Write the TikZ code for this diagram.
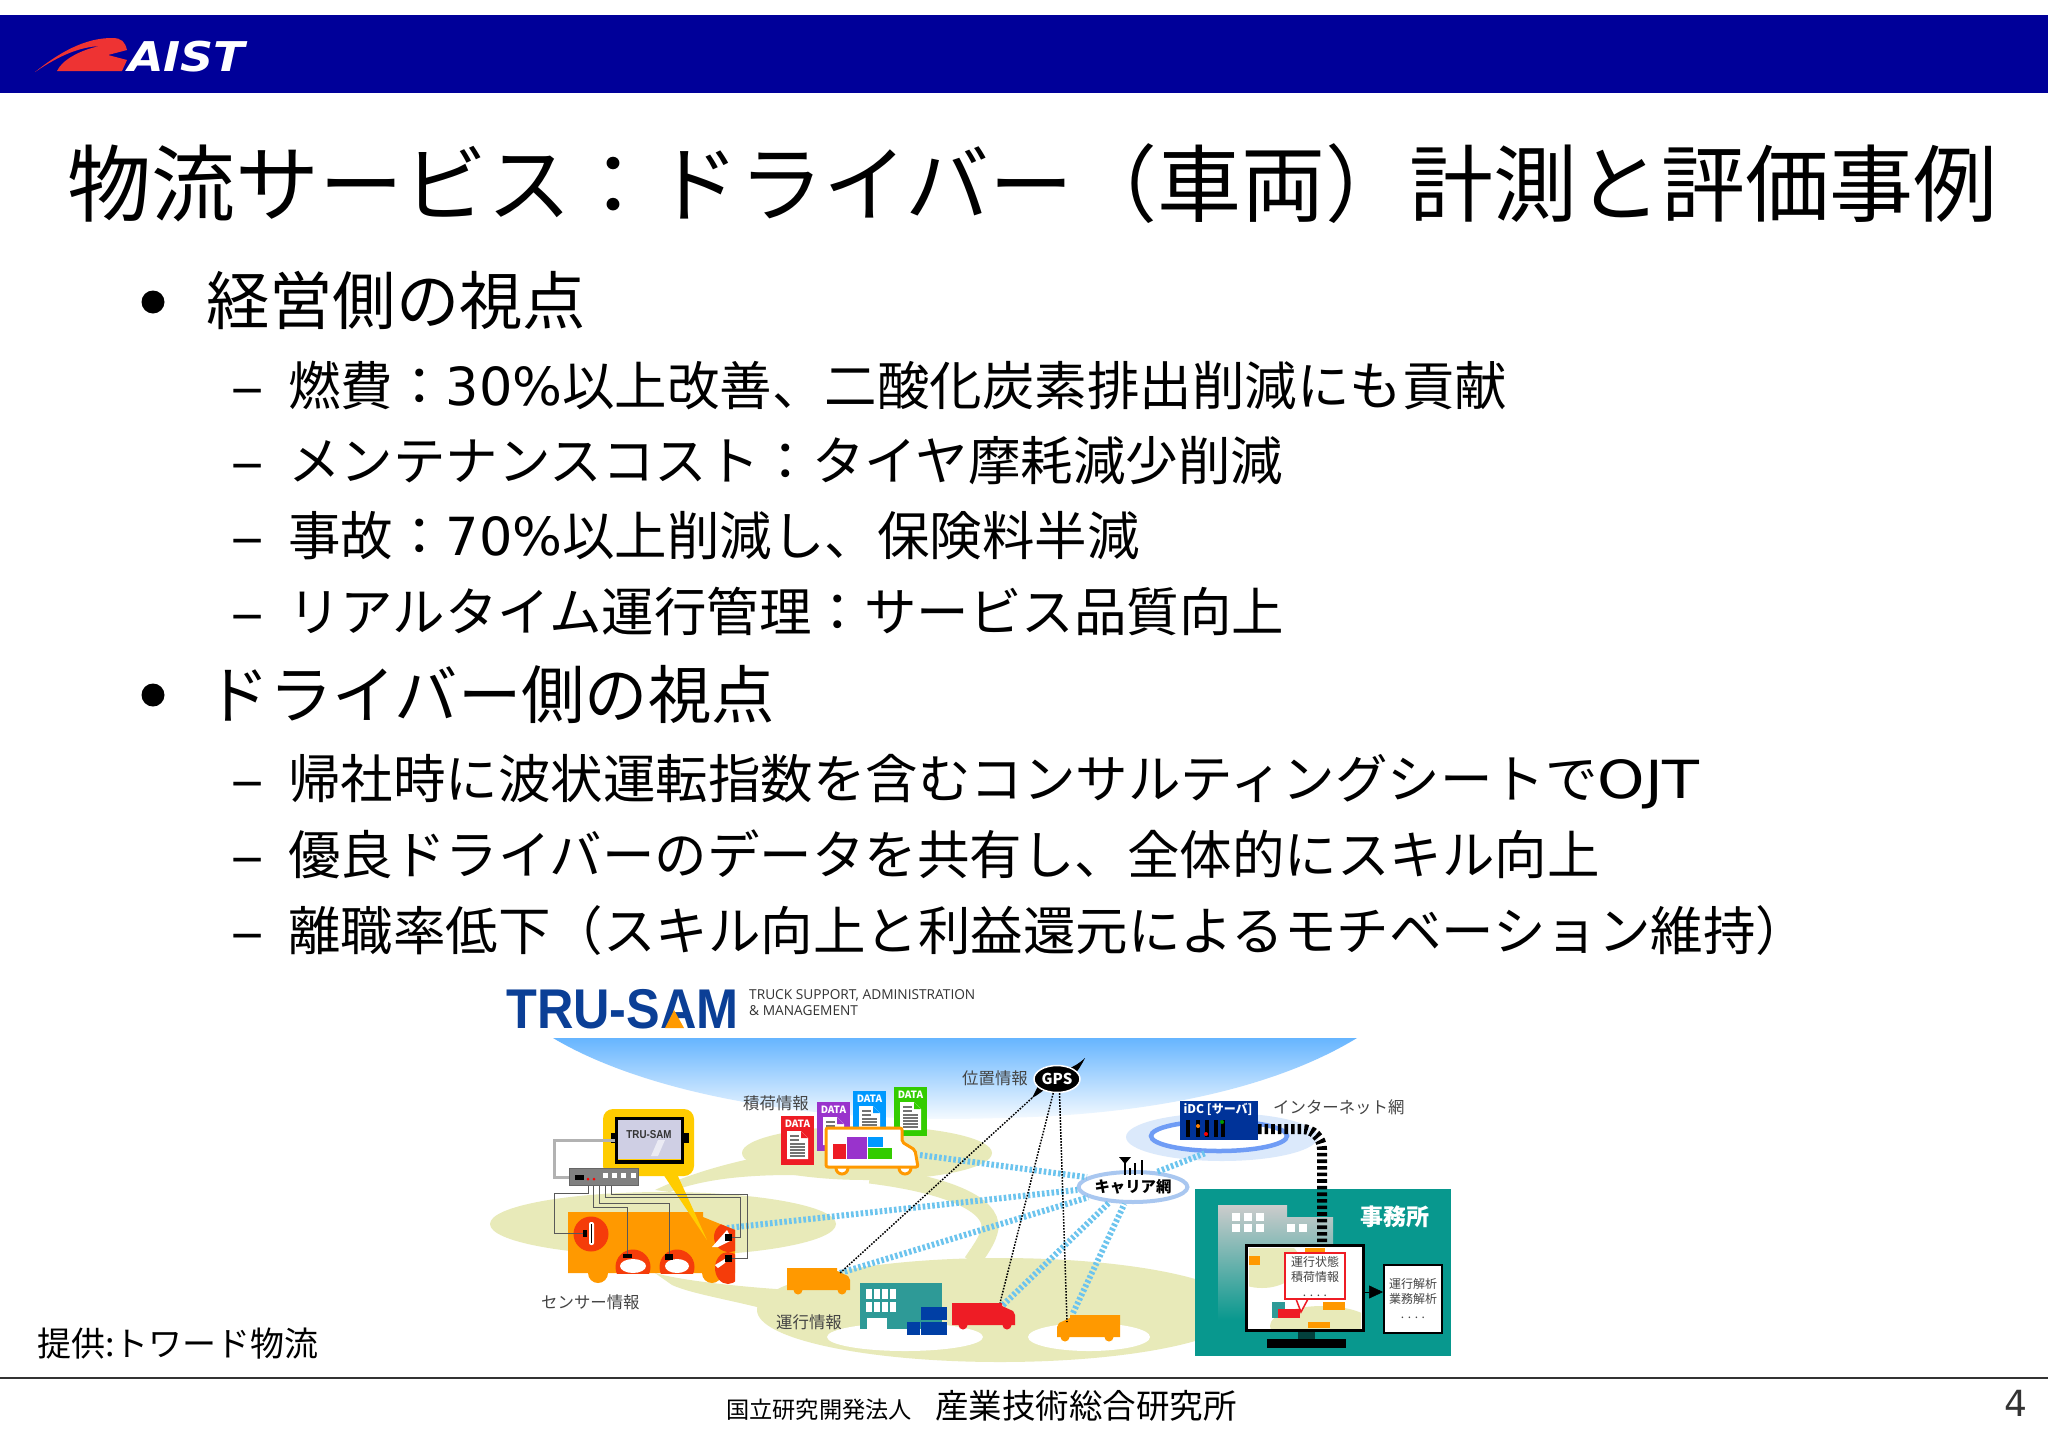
\documentclass[tikz,border=0pt]{standalone}
\usepackage{fontspec}
\usepackage{xcolor}
\usetikzlibrary{shapes.geometric,arrows.meta}
\setmainfont{Noto Sans CJK JP}
\newfontfamily\verafont{DejaVu Sans}
\newfontfamily\logofont{Liberation Sans}
\newfontfamily\capfont{Open Sans}
\definecolor{bandblue}{HTML}{000099}
\definecolor{swooshred}{HTML}{EE3333}
\definecolor{skyblue}{HTML}{66B5FF}
\definecolor{groundpale}{HTML}{E8EAB9}
\definecolor{linkblue}{HTML}{6CC4EE}
\definecolor{vanorange}{HTML}{FF9900}
\definecolor{sensorred}{HTML}{F53C0A}
\definecolor{calloutgold}{HTML}{FFCC00}
\definecolor{sheetred}{HTML}{EE1C25}
\definecolor{sheetpurple}{HTML}{9933CC}
\definecolor{sheetblue}{HTML}{0099FF}
\definecolor{sheetgreen}{HTML}{33CC00}
\definecolor{depotteal}{HTML}{2E9A97}
\definecolor{officeteal}{HTML}{08988E}
\definecolor{crateblue}{HTML}{003FA5}
\definecolor{logoblue}{HTML}{0B3F96}
\definecolor{idcblue}{HTML}{003399}
\definecolor{labelgray}{HTML}{444444}
\definecolor{cloudpale}{HTML}{DBE9FB}
\definecolor{carrierring}{HTML}{A9C7F0}
\definecolor{idcringblue}{HTML}{6F9CF5}

\begin{document}
\begin{tikzpicture}[
    x=1pt, y=-1pt,
    title/.style={anchor=base west, inner sep=0pt, font=\fontsize{84}{90}\selectfont},
    head/.style={anchor=base west, inner sep=0pt, font=\fontsize{63.3}{70}\selectfont},
    point/.style={anchor=base west, inner sep=0pt, font=\fontsize{52.5}{60}\selectfont},
    dashmark/.style={anchor=base west, inner sep=0pt, font=\verafont\fontsize{52.5}{60}\selectfont},
    dot/.style={circle, fill=black, inner sep=0pt, minimum size=23},
    tag/.style={inner sep=0pt, text=labelgray, font=\fontsize{16.4}{18}\selectfont},
    sheettitle/.style={inner sep=0pt, text=white, font=\fontsize{10}{11}\selectfont\bfseries},
    plug/.style={rectangle, fill=black, inner sep=0pt},
    wire/.style={draw=black!65, line width=1pt},
    link/.style={draw=linkblue, line width=6pt, dash pattern=on 2.6pt off 2.2pt},
    gpsline/.style={draw=black, line width=1.5pt, dash pattern=on 1.6pt off 1.4pt},
    memo/.style={rectangle, fill=white, inner sep=0pt, align=center, text=labelgray, font=\fontsize{12}{15}\selectfont},
    pics/datasheet/.style={code={
        \fill[#1] (0,0) rectangle (33,49);
        \node[sheettitle] (-title) at (16.5,8) {DATA};
        \fill[white] (6,15) -- (20,15) -- (27,22) -- (27,43) -- (6,43) -- cycle;
        \fill[#1] (20,15) -- (27,22) -- (20,22) -- cycle;
        \foreach \yy in {20,24} \draw[black!55, line width=1.2pt] (9,\yy) -- (18,\yy);
        \foreach \yy in {28,31,34,37,40} \draw[black!55, line width=1.2pt] (9,\yy) -- (24,\yy);
    }},
    pics/lorry/.style={code={
        \fill[#1] (0,0) -- (50,0) -- (50,3) -- (61,8) -- (63,12) -- (63,22) -- (0,22) -- cycle;
        \fill[#1] (11,22) circle (4.5);
        \fill[#1] (55,22) circle (4.5);
    }}
]
    \useasboundingbox (0,0) rectangle (2048,1448);
    \fill[white] (0,0) rectangle (2048,1448);

    % header band
    \fill[bandblue] (0,15) rectangle (2048,93);
    \fill[swooshred] (35,72) .. controls (60,52) and (85,38) .. (112,38) .. controls (122,38) and (125,42) .. (127,50)
        -- (108,55) -- (127,60) -- (122,71) -- (57,71) .. controls (62,60) and (80,50) .. (100,46)
        .. controls (80,47) and (60,55) .. (35,72) -- cycle;
    \node[anchor=base west, inner sep=0pt, text=white, font=\verafont\fontsize{41}{44}\selectfont\bfseries\itshape] (aist) at (128,71) {\scalebox{1.12}[1]{AIST}};

    % text of the slide
    \node[title] (slidetitle) at (67,215) {物流サービス：ドライバー（車両）計測と評価事例};
    \node[dot] (dotone) at (153,302) {};
    \node[head] (headone) at (206,324) {経営側の視点};
    \node[dashmark] (dashone) at (230,405) {\scalebox{1.3}[1]{–}};
    \node[point] (fuel) at (288,405) {燃費：{\verafont 30\%}以上改善、二酸化炭素排出削減にも貢献};
    \node[dashmark] (dashtwo) at (230,480) {\scalebox{1.3}[1]{–}};
    \node[point] (upkeep) at (288,480) {メンテナンスコスト：タイヤ摩耗減少削減};
    \node[dashmark] (dashthree) at (230,555) {\scalebox{1.3}[1]{–}};
    \node[point] (accident) at (288,555) {事故：{\verafont 70\%}以上削減し、保険料半減};
    \node[dashmark] (dashfour) at (230,631) {\scalebox{1.3}[1]{–}};
    \node[point] (realtime) at (288,631) {リアルタイム運行管理：サービス品質向上};
    \node[dot] (dottwo) at (153,695) {};
    \node[head] (headtwo) at (206,718) {ドライバー側の視点};
    \node[dashmark] (dashfive) at (230,798) {\scalebox{1.3}[1]{–}};
    \node[point] (sheet) at (288,798) {帰社時に波状運転指数を含むコンサルティングシートで{\verafont\scalebox{1.15}[1]{OJT}}};
    \node[dashmark] (dashsix) at (230,874) {\scalebox{1.3}[1]{–}};
    \node[point] (share) at (288,874) {優良ドライバーのデータを共有し、全体的にスキル向上};
    \node[dashmark] (dashseven) at (230,950) {\scalebox{1.3}[1]{–}};
    \node[point] (leave) at (288,950) {離職率低下（スキル向上と利益還元によるモチベーション維持）};
    \node[anchor=base west, inner sep=0pt, font=\fontsize{34}{38}\selectfont] (source) at (37,1356) {提供:トワード物流};

    % footer
    \draw[black!80, line width=2pt] (0,1378) -- (2048,1378);
    \node[anchor=base west, inner sep=0pt, font=\fontsize{23.2}{26}\selectfont] (instone) at (726,1418) {国立研究開発法人};
    \node[anchor=base west, inner sep=0pt, font=\fontsize{33.5}{36}\selectfont] (insttwo) at (935,1418) {産業技術総合研究所};
    \node[anchor=base east, inner sep=0pt, text=black!80, font=\verafont\fontsize{36}{40}\selectfont] (pageno) at (2028,1416) {4};

    % logo of the service
    \node[anchor=base west, inner sep=0pt, text=logoblue, font=\logofont\fontsize{56}{60}\selectfont\bfseries] (trusam) at (506,1028) {\scalebox{0.9}[1]{TRU-SAM}};
    \fill[vanorange] (665,1028) -- (674,1010) -- (684,1028) -- cycle;
    \node[anchor=base west, inner sep=0pt, text=black!80, font=\capfont\fontsize{13.7}{16}\selectfont] (capone) at (749,999) {TRUCK SUPPORT, ADMINISTRATION};
    \node[anchor=base west, inner sep=0pt, text=black!80, font=\capfont\fontsize{13.7}{16}\selectfont] (captwo) at (749,1015) {\&\ MANAGEMENT};

    % sky and ground
    \shade[top color=skyblue, bottom color=white] (553,1038) .. controls (640,1090) and (800,1125) .. (1000,1118)
        .. controls (1160,1115) and (1280,1085) .. (1357,1038) -- cycle;
    \fill[groundpale] (663,1224) ellipse (173 and 32);
    \fill[groundpale] (867,1153) ellipse (125 and 27);
    \fill[groundpale] (1000,1310) ellipse (243 and 52);
    \fill[groundpale] (655,1190) .. controls (680,1178) and (710,1168) .. (745,1160) -- (890,1170) -- (890,1180)
        .. controls (800,1172) and (720,1172) .. (670,1192) -- cycle;
    \draw[groundpale, line width=17pt] (870,1175) .. controls (950,1185) and (992,1205) .. (990,1228) .. controls (988,1240) and (980,1250) .. (972,1262);
    \fill[groundpale] (655,1273) .. controls (680,1280) and (730,1286) .. (790,1290) -- (790,1330) -- (757,1307) .. controls (720,1298) and (690,1293) .. (672,1285) -- cycle;
    \fill[white] (905,1337) ellipse (78 and 14);
    \fill[white] (1089,1337) ellipse (61 and 14);

    % named points of the vehicles
    \coordinate (datavan) at (920,1155);
    \coordinate (sensorvan) at (727,1228);
    \coordinate (vanone) at (840,1273);
    \coordinate (vantwo) at (1003,1305);
    \coordinate (vanthree) at (1073,1313);
    \coordinate (gpstail) at (1032,1098);
    \coordinate (vantwotop) at (1000,1303);
    \coordinate (vanthreetop) at (1067,1322);

    % carrier network and server
    \fill[cloudpale] (1222,1137) ellipse (96 and 24);
    \node[ellipse, draw=carrierring, line width=4pt, fill=white, inner sep=0pt, minimum width=100, minimum height=30, font=\fontsize{15.4}{17}\selectfont\bfseries] (carrier) at (1133,1187) {キャリア網};
    \node[ellipse, draw=idcringblue, line width=4.5pt, fill=white, inner sep=0pt, minimum width=136, minimum height=30] (idcring) at (1219,1136) {};

    \draw[link] (datavan) -- (carrier.168);
    \draw[link] (sensorvan) -- (carrier.183);
    \draw[link] (vanone) -- (carrier.193);
    \draw[link] (vantwo) -- (carrier.213);
    \draw[link] (vanthree) -- (carrier.243);
    \draw[link] (carrier.32) -- (idcring.232);

    % antenna
    \draw[black, line width=2pt] (1125,1158) -- (1125,1175);
    \fill[black] (1119,1157) -- (1131,1157) -- (1125,1164) -- cycle;
    \draw[black, line width=2pt] (1130,1168) -- (1130,1175);
    \draw[black, line width=2pt] (1135,1163) -- (1135,1175);
    \draw[black, line width=2pt] (1142,1160) -- (1142,1175);

    % server box
    \node[rectangle, fill=idcblue, inner sep=0pt, minimum width=78, minimum height=39] (idc) at (1219,1120.5) {};
    \node[inner sep=0pt, text=white, font=\fontsize{12}{13}\selectfont\bfseries] (idctext) at (1218,1109) {iDC [サーバ]};
    \foreach \xx in {1188,1198,1207,1216,1223} \fill[black] (\xx-2,1120) rectangle (\xx+2,1137);
    \fill[orange] (1198,1126) circle (2);
    \fill[red] (1206,1134) circle (2);
    \fill[green!60!black] (1222,1122) circle (2);
    \node[tag, anchor=west] (nettag) at (1273,1107) {インターネット網};

    % office
    \node[rectangle, fill=officeteal, inner sep=0pt, minimum width=256, minimum height=167] (office) at (1323,1272.5) {};
    \shade[top color=black!20, bottom color=officeteal] (1218,1205) -- (1287,1205) -- (1287,1217) -- (1333,1217) -- (1333,1320) -- (1218,1320) -- cycle;
    \foreach \xx in {1232,1244,1256} \foreach \yy in {1213,1224} \fill[white] (\xx,\yy) rectangle (\xx+8,\yy+8);
    \foreach \xx in {1287,1299} \fill[white] (\xx,1224) rectangle (\xx+8,1232);
    \node[inner sep=0pt, text=white, font=\fontsize{23}{25}\selectfont\bfseries] (officetag) at (1395,1217) {事務所};
    \coordinate (idcport) at (1258,1129);
    \coordinate (monitorport) at (1322,1244);
    \draw[black, line width=10pt, dash pattern=on 3.6pt off 3pt, rounded corners=20] (idcport) -| (monitorport);

    % monitor
    \node[rectangle, draw=black, line width=3.5pt, fill=white, inner sep=0pt, minimum width=117, minimum height=85] (monitor) at (1305,1288) {};
    \fill[black!30!officeteal!60!black] (1298,1332) rectangle (1315,1339);
    \fill[black] (1267,1339) rectangle (1346,1348);
    \begin{scope}
        \clip (1249,1248) rectangle (1361,1328);
        \fill[groundpale] (1262,1262) ellipse (38 and 26);
        \fill[groundpale] (1322,1326) ellipse (52 and 20);
        \fill[depotteal] (1272,1302) rectangle (1285,1318);
        \fill[vanorange] (1249,1256) rectangle (1260,1265);
        \fill[vanorange] (1305,1248) rectangle (1325,1252);
        \fill[vanorange] (1323,1302) rectangle (1345,1310);
        \fill[vanorange] (1308,1322) rectangle (1330,1328);
        \fill[sheetred] (1278,1309) rectangle (1300,1318);
    \end{scope}
    \filldraw[draw=sheetred, fill=white, line width=1.5pt] (1296,1299) -- (1301,1312) -- (1308,1299) -- cycle;
    \node[memo, draw=sheetred, line width=2pt, minimum width=60, minimum height=46] (statusbox) at (1315,1276) {運行状態\\積荷情報\\. . . .};
    \node[memo, draw=black, line width=2pt, minimum width=58, minimum height=68] (report) at (1413,1299) {運行解析\\業務解析\\. . . .};
    \coordinate (monitorout) at (1365,1292);
    \coordinate (reportin) at (1383,1292);
    \draw[-{Triangle[length=14pt, width=13pt]}, black, line width=0.6pt] (monitorout) -- (reportin);

    % data sheets and the loaded van
    \pic (sheetred) at (781,1116) {datasheet=sheetred};
    \pic (sheetpurple) at (817,1102) {datasheet=sheetpurple};
    \pic (sheetblue) at (853,1091) {datasheet=sheetblue};
    \pic (sheetgreen) at (894,1087) {datasheet=sheetgreen};
    \filldraw[draw=vanorange, fill=white, line width=3pt] (842,1168) circle (6);
    \filldraw[draw=vanorange, fill=white, line width=3pt] (905,1168) circle (6);
    \filldraw[draw=vanorange, fill=white, line width=3pt, rounded corners=2] (826,1128) -- (902,1128) -- (902,1142) -- (915,1150) -- (918,1167) -- (826,1167) -- cycle;
    \fill[sheetred] (833,1144) rectangle (846,1159);
    \fill[sheetpurple] (847,1137) rectangle (867,1159);
    \fill[sheetblue] (868,1137) rectangle (883,1147);
    \fill[sheetgreen] (868,1148) rectangle (892,1159);
    \node[tag, anchor=west] (loadtag) at (743,1103) {積荷情報};

    % depot and lorries
    \fill[depotteal] (860,1283) rectangle (942,1329);
    \fill[white] (867,1318) rectangle (887,1330);
    \foreach \xx in {866,874,882,890} \foreach \yy in {1289,1302} \fill[white] (\xx,\yy) rectangle (\xx+6,\yy+10);
    \foreach \xx/\yy in {921/1307,934/1307,907/1322,921/1322,934/1322} \fill[crateblue] (\xx,\yy) rectangle (\xx+12.5,\yy+12.5);
    \pic at (787,1268) {lorry=vanorange};
    \pic at (952,1303) {lorry=sheetred};
    \pic[xscale=-1] at (1120,1315) {lorry=vanorange};
    \node[tag, anchor=west] (runtag) at (776,1322) {運行情報};

    % the instrumented truck
    \fill[vanorange] (598,1273) circle (10);
    \fill[vanorange] (712,1273) circle (10);
    \fill[vanorange] (568,1212) -- (703,1212) -- (703,1217) -- (735,1230) -- (735,1273) -- (568,1273) -- cycle;
    \fill[sensorred] (591,1234) circle (17.5);
    \fill[white, rounded corners=2] (589,1222) rectangle (594,1245);
    \draw[black, line width=1pt] (591.5,1224) -- (591.5,1243);
    \begin{scope}
        \clip (600,1212) rectangle (700,1273);
        \fill[sensorred] (633,1267) circle (17.5);
        \fill[sensorred] (677,1267) circle (17.5);
    \end{scope}
    \fill[white] (633,1266) ellipse (13 and 7);
    \fill[white] (677,1266) ellipse (12 and 7);
    \begin{scope}
        \clip (703,1217) -- (735,1230) -- (735,1285) -- (700,1285) -- cycle;
        \fill[sensorred] (729,1237) circle (15);
        \fill[sensorred] (728,1268) ellipse (13 and 16);
    \end{scope}
    \fill[white] (712,1247) -- (727,1230) -- (732,1240) -- (718,1247) -- cycle;
    \fill[white] (715,1265) -- (728,1257) -- (725,1263) -- (718,1268) -- cycle;

    % on board unit in its yellow callout
    \fill[calloutgold] (663,1174) -- (677,1174) -- (707,1240) -- cycle;
    \fill[calloutgold, rounded corners=10] (603,1109) rectangle (694,1176);
    \fill[black] (611,1133) rectangle (689,1143);
    \node[rectangle, draw=black, line width=3pt, fill=black!5!blue!10!white!90!black, inner sep=0pt, minimum width=66, minimum height=43] (display) at (649.5,1140) {};
    \fill[black] (615,1160) rectangle (684,1164);
    \fill[calloutgold] (618,1158.5) rectangle (681,1160);
    \fill[white, opacity=.6] (651,1156) -- (658,1156) -- (665,1140) -- (658,1140) -- cycle;
    \node[inner sep=0pt, text=black!80, font=\logofont\fontsize{11.5}{12}\selectfont\bfseries] (displaytext) at (649,1135) {\scalebox{0.85}[1]{TRU-SAM}};

    \node[rectangle, draw=black!60, line width=1pt, fill=black!50, inner sep=0pt, minimum width=69, minimum height=17] (unit) at (604,1177) {};
    \fill[black] (575,1175) rectangle (584,1180);
    \fill[red] (588,1179) circle (1.5);
    \fill[red] (594,1179) circle (1.5);
    \foreach \xx in {605,614,623,633} \fill[white] (\xx-2.5,1173) rectangle (\xx+2.5,1178);
    \draw[black!30, line width=3pt] (display.west) -| (554,1177) -- (unit.west);

    % sensor plugs and wires
    \node[plug, minimum width=4, minimum height=7] (thermoplug) at (585,1233.5) {};
    \node[plug, minimum width=9, minimum height=4] (tireone) at (627,1256) {};
    \node[plug, minimum width=8, minimum height=6] (tiretwo) at (669,1257) {};
    \node[plug, minimum width=7, minimum height=7] (lampone) at (728,1237) {};
    \node[plug, minimum width=7, minimum height=7] (lamptwo) at (728,1258) {};
    \coordinate (porta) at (588,1186);
    \coordinate (portb) at (593,1186);
    \coordinate (portc) at (599,1186);
    \coordinate (portd) at (605,1186);
    \coordinate (porte) at (611,1186);
    \draw[wire] (porta) -- ++(0,7) -- ++(-34,0) |- (thermoplug.west);
    \draw[wire] (portb) -- ++(0,21) -| (tireone.north);
    \draw[wire] (portc) -- ++(0,17) -| (tiretwo.north);
    \draw[wire] (portd) -- ++(0,11) -- ++(135,0) |- (lampone.east);
    \draw[wire] (porte) -- ++(0,8) -- ++(136,0) |- (lamptwo.east);
    \node[tag, anchor=west] (sensortag) at (541,1302) {センサー情報};

    % GPS
    \fill[black] (1042,1074) .. controls (1060,1072) and (1072,1070) .. (1085,1058) .. controls (1078,1072) and (1070,1082) .. (1058,1088) -- cycle;
    \fill[black] (1050,1085) .. controls (1044,1090) and (1038,1095) .. (1032,1098) .. controls (1034,1094) and (1037,1088) .. (1040,1082) -- cycle;
    \node[ellipse, draw=white, fill=black, line width=1.5pt, inner sep=0pt, minimum width=46, minimum height=27, text=white, font=\fontsize{15}{16}\selectfont\bfseries] (gps) at (1057,1079) {GPS};
    \node[tag, anchor=west] (postag) at (962,1078) {位置情報};
    \draw[gpsline] (gpstail) -- (vanone);
    \draw[gpsline] (gps.255) -- (vantwotop);
    \draw[gpsline] (gps.280) -- (vanthreetop);
\end{tikzpicture}
\end{document}
